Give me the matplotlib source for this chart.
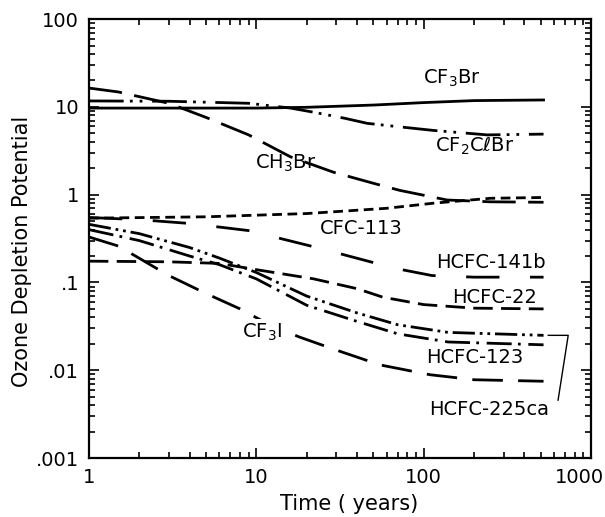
import matplotlib
matplotlib.use("Agg")
import matplotlib.pyplot as plt
import matplotlib.transforms as mtransforms

plt.rcParams['font.family'] = ['DejaVu Sans']
plt.rcParams['lines.scale_dashes'] = False

# values (time in years, ODP)
cf3br_t = [1, 3, 10, 20, 50, 100, 200, 520]
cf3br = [9.7, 9.7, 9.7, 9.9, 10.5, 11.2, 11.8, 12.0]

cf2clbr_t = [1, 3, 9, 16, 22, 34, 46, 80, 114, 240, 520]
cf2clbr = [11.7, 11.6, 11.0, 9.7, 8.7, 7.4, 6.5, 5.8, 5.4, 4.8, 4.9]

ch3br_t = [1, 1.5, 3, 5, 9, 16, 29, 50, 72, 138, 250, 520]
ch3br = [16.4, 14.8, 11.0, 7.6, 4.8, 2.7, 1.8, 1.35, 1.12, 0.87, 0.83, 0.82]

cfc113_t = [1, 5, 20, 60, 114, 250, 520]
cfc113 = [0.54, 0.56, 0.61, 0.70, 0.80, 0.91, 0.93]

hcfc141b_t = [1, 2, 4, 9, 23, 59, 74, 112, 200, 520]
hcfc141b = [0.55, 0.52, 0.47, 0.39, 0.25, 0.155, 0.14, 0.12, 0.115, 0.115]

hcfc22_t = [1, 3, 6, 10, 22, 40, 57, 100, 200, 520]
hcfc22 = [0.175, 0.172, 0.165, 0.14, 0.11, 0.085, 0.068, 0.056, 0.051, 0.050]

hcfc225ca_t = [1, 2, 4, 6, 10, 20, 40, 70, 140, 520]
hcfc225ca = [0.46, 0.36, 0.25, 0.19, 0.13, 0.07, 0.045, 0.033, 0.027, 0.025]

hcfc123_t = [1, 2, 4, 6, 10, 20, 40, 70, 140, 520]
hcfc123 = [0.40, 0.30, 0.20, 0.16, 0.11, 0.055, 0.036, 0.026, 0.021, 0.0195]

cf3i_t = [1, 1.5, 3, 5, 8, 12, 18, 30, 55, 109, 200, 520]
cf3i = [0.33, 0.26, 0.12, 0.075, 0.05, 0.033, 0.024, 0.017, 0.0115, 0.0089, 0.0078, 0.0075]

xticks = [1, 10, 100, 1000]
xticklabels = ['1', '10', '100', '1000']
yticks = [0.001, 0.01, 0.1, 1, 10, 100]
yticklabels = ['.001', '.01', '.1', '1', '10', '100']

fig = plt.figure(figsize=(6.05, 5.17), dpi=100)
ax = fig.add_axes([0.147, 0.114, 0.83, 0.849])

lw = 2.0
ax.plot(cf3br_t, cf3br, color='k', lw=lw)
ax.plot(cf2clbr_t, cf2clbr, color='k', lw=lw, dashes=(25, 4.5, 2, 5, 2, 7))
ax.plot(ch3br_t, ch3br, color='k', lw=lw, dashes=(24, 9))
ax.plot(cfc113_t, cfc113, color='k', lw=lw, dashes=(7, 4))
ax.plot(hcfc141b_t, hcfc141b, color='k', lw=lw, dashes=(24, 22))
ax.plot(hcfc22_t, hcfc22, color='k', lw=lw, dashes=(14, 6))
ax.plot(hcfc225ca_t, hcfc225ca, color='k', lw=lw, dashes=(16, 3.5, 2, 3.5, 2, 3.5))
ax.plot(hcfc123_t, hcfc123, color='k', lw=lw, dashes=(18, 4.5, 2, 5.5))
ax.plot(cf3i_t, cf3i, color='k', lw=lw, dashes=(22, 11))

# leader line for HCFC-225ca
ax.plot([555, 730, 635], [0.025, 0.025, 0.00457], color='k', lw=1.0)

fs = 14
ax.text(99, 21.3, 'CF$_3$Br', fontsize=fs, va='center')
ax.text(117, 3.58, 'CF$_2$C\u2113Br', fontsize=fs, va='center')
ax.text(9.8, 2.29, 'CH$_3$Br', fontsize=fs, va='center')
ax.text(24, 0.417, 'CFC-113', fontsize=fs, va='center')
ax.text(118, 0.17, 'HCFC-141b', fontsize=fs, va='center')
ax.text(148, 0.068, 'HCFC-22', fontsize=fs, va='center')
ax.text(104, 0.014, 'HCFC-123', fontsize=fs, va='center')
ax.text(108, 0.00355, 'HCFC-225ca', fontsize=fs, va='center')
ax.text(8.2, 0.0272, 'CF$_3$I', fontsize=fs, va='center', zorder=5,
        bbox=dict(facecolor='white', edgecolor='none', pad=1.5))

ax.set_xscale('log')
ax.set_yscale('log')
ax.set_xlim(1, 1000)
ax.set_ylim(0.001, 100)
ax.set_xticks(xticks)
ax.set_xticklabels(xticklabels)
ax.set_yticks(yticks)
ax.set_yticklabels(yticklabels)
ax.tick_params(which='both', direction='in', top=True, right=True,
               labelsize=14, width=1.2)
ax.tick_params(which='major', length=7, pad=7)
ax.tick_params(which='minor', length=4)
for s in ax.spines.values():
    s.set_linewidth(1.6)

# last x label sits a little left of its tick, as in the reference
lab = ax.get_xticklabels()[-1]
lab.set_transform(lab.get_transform() +
                  mtransforms.ScaledTranslation(-0.12, 0, fig.dpi_scale_trans))

ax.set_xlabel('Time ( years)', fontsize=15)
ax.set_ylabel('Ozone Depletion Potential', fontsize=15)
ax.xaxis.set_label_coords(0.518, -0.082)
ax.yaxis.set_label_coords(-0.113, 0.47)

fig.savefig('out.png', dpi=100)
